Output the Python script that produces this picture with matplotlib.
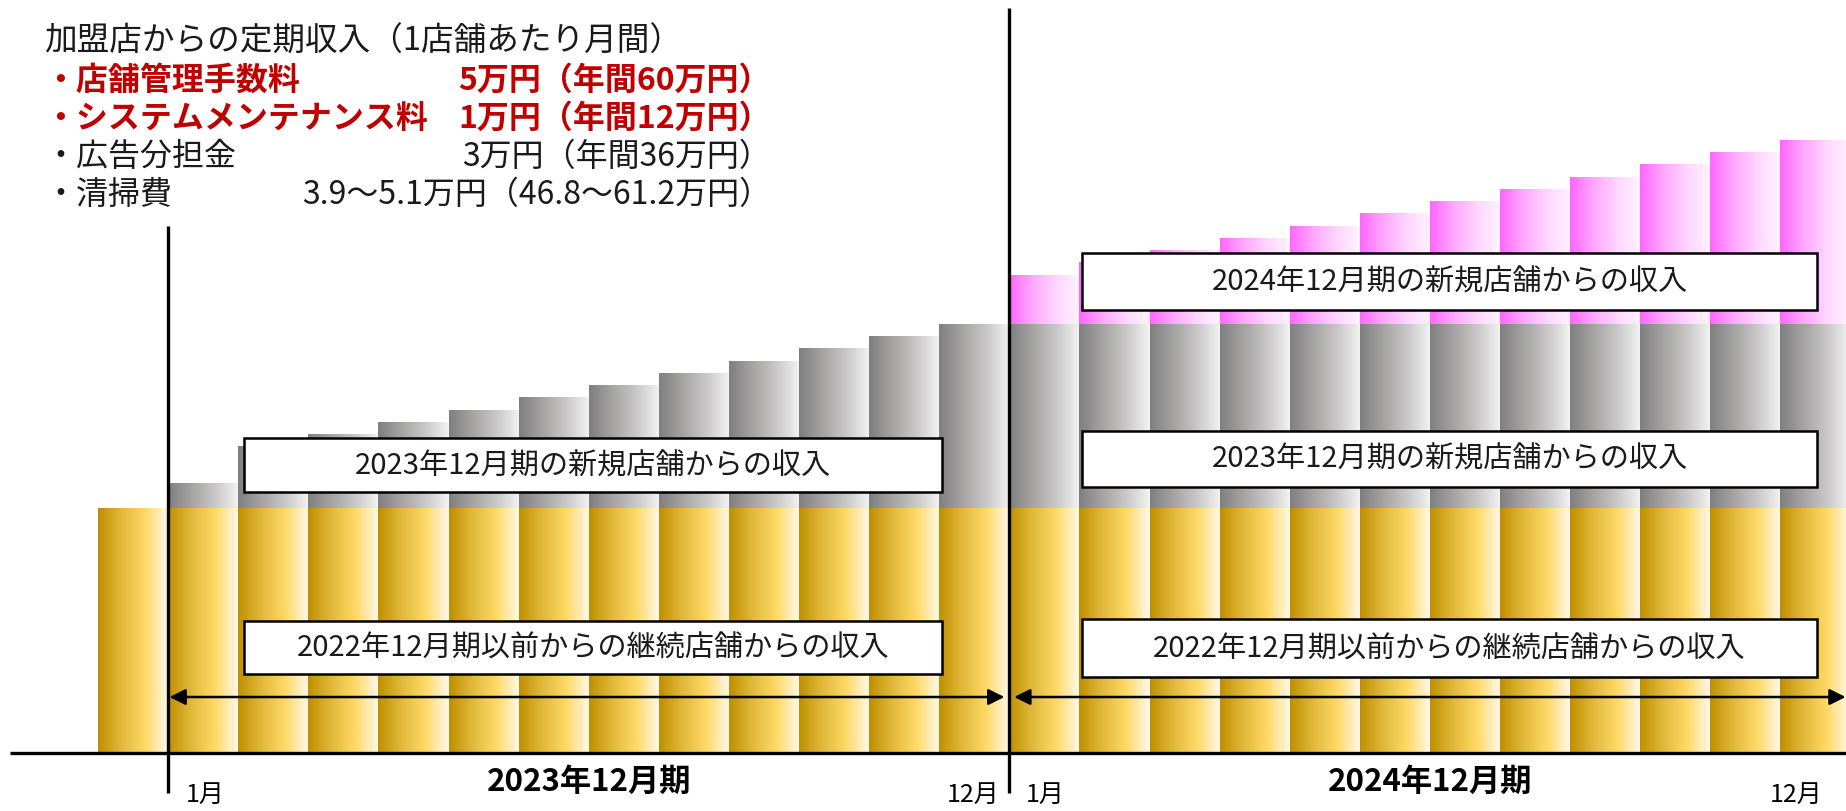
import numpy as np
import matplotlib.pyplot as plt
from matplotlib.colors import LinearSegmentedColormap
from matplotlib.patches import Rectangle

plt.rcParams['font.family'] = ['Noto Sans CJK JP', 'DejaVu Sans']

W, H = 1846, 812

# 25 monthly bars: one before the period, 12 for FY2023, 12 for FY2024
continuing = [20, 20, 20, 20, 20, 20, 20, 20, 20, 20, 20, 20, 20,
              20, 20, 20, 20, 20, 20, 20, 20, 20, 20, 20, 20]
new_2023 = [0, 2, 5, 6, 7, 8, 9, 10, 11, 12, 13, 14, 15,
            15, 15, 15, 15, 15, 15, 15, 15, 15, 15, 15, 15]
new_2024 = [0, 0, 0, 0, 0, 0, 0, 0, 0, 0, 0, 0, 0,
            4, 5, 6, 7, 8, 9, 10, 11, 12, 13, 14, 15]

period_labels = ["2023年12月期", "2024年12月期"]
box_labels = ["2022年12月期以前からの継続店舗からの収入",
              "2023年12月期の新規店舗からの収入",
              "2024年12月期の新規店舗からの収入"]

header = "加盟店からの定期収入（1店舗あたり月間）"
fee_items = ["・店舗管理手数料", "・システムメンテナンス料", "・広告分担金", "・清掃費"]
fee_values = ["5万円（年間60万円）", "1万円（年間12万円）",
              "3万円（年間36万円）", "3.9～5.1万円（46.8～61.2万円）"]
fee_highlight = [True, True, False, False]

gold = LinearSegmentedColormap.from_list("gold", ["#BF8F00", "#E2B93B", "#FFD966", "#FFFAEE"])
gray = LinearSegmentedColormap.from_list("gray", ["#7F7F7F", "#A6A3A3", "#C9C7C7", "#F4F4F4"])
pink = LinearSegmentedColormap.from_list("pink", ["#FF66FF", "#FFA8FF", "#FFD6FF", "#FFF4FF"])
grad = np.linspace(0, 1, 256).reshape(1, -1)

fig = plt.figure(figsize=(W / 100, H / 100), dpi=100)
ax = fig.add_axes([0, 0, 1, 1])
ax.axis('off')

x = np.arange(len(continuing))


def gradient_bars(heights, bottoms, cmap):
    bars = ax.bar(x, heights, width=1.0, bottom=bottoms, align='edge',
                  color='none', linewidth=0)
    for b in bars:
        if b.get_height() <= 0:
            continue
        x0, y0 = b.get_x(), b.get_y()
        ax.imshow(grad, cmap=cmap, aspect='auto', interpolation='bicubic',
                  extent=(x0, x0 + b.get_width(), y0, y0 + b.get_height()), zorder=1)


cont = np.array(continuing)
n23 = np.array(new_2023)
n24 = np.array(new_2024)
gradient_bars(cont, 0, gold)
gradient_bars(n23, cont, gray)
gradient_bars(n24, cont + n23, pink)

# axis lines
ax.plot([-1.255, 25], [0, 0], color='black', lw=2.4, zorder=6, solid_capstyle='butt')
ax.plot([1, 1], [-3.27, 43.0], color='black', lw=2.4, zorder=6, solid_capstyle='butt')
ax.plot([13, 13], [-3.27, 60.8], color='black', lw=2.4, zorder=6, solid_capstyle='butt')

# period arrows
arrow = dict(arrowstyle='<|-|>', color='black', lw=1.8, mutation_scale=24,
             shrinkA=0, shrinkB=0)
ax.annotate("", xy=(12.93, 4.57), xytext=(1.02, 4.57), arrowprops=arrow, zorder=7)
ax.annotate("", xy=(24.93, 4.57), xytext=(13.07, 4.57), arrowprops=arrow, zorder=7)

# month labels
ax.text(1.25, -3.3, "1月", ha='left', va='center', fontsize=18)
ax.text(12.86, -3.3, "12月", ha='right', va='center', fontsize=18)
ax.text(13.23, -3.3, "1月", ha='left', va='center', fontsize=18)
ax.text(24.6, -3.3, "12月", ha='right', va='center', fontsize=18)
ax.text(7.0, -2.3, period_labels[0], ha='center', va='center', fontsize=22.5, fontweight='bold')
ax.text(19.0, -2.3, period_labels[1], ha='center', va='center', fontsize=22.5, fontweight='bold')

# label boxes (x0, x1, y0, y1, text)
boxes = [(2.08, 12.04, 6.45, 10.78, box_labels[0]),
         (2.08, 12.04, 21.3, 25.7, box_labels[1]),
         (14.04, 24.52, 6.2, 10.9, box_labels[0]),
         (14.04, 24.52, 21.7, 26.3, box_labels[1]),
         (14.04, 24.52, 36.2, 40.8, box_labels[2])]
for x0, x1, y0, y1, txt in boxes:
    ax.add_patch(Rectangle((x0, y0), x1 - x0, y1 - y0, facecolor='white',
                           edgecolor='black', lw=1.8, zorder=8))
    ax.text((x0 + x1) / 2, (y0 + y1) / 2, txt, ha='center', va='center',
            fontsize=21, zorder=9, color='#1a1a1a')

ax.set_xlim(-98 / 70.1, (W - 98) / 70.1)
ax.set_ylim(-(H - 754) / 12.25, 754 / 12.25)

# fee text block (pixel positions)
fig.text(44 / W, 1 - 42 / H, header, ha='left', va='center', fontsize=23.5, color='#1a1a1a')
line_y = [81, 119, 157, 195]
for name, val, hl, y in zip(fee_items, fee_values, fee_highlight, line_y):
    col = '#C00000' if hl else '#1a1a1a'
    fw = 'bold' if hl else 'normal'
    fig.text(44 / W, 1 - y / H, name, ha='left', va='center', fontsize=23,
             color=col, fontweight=fw)
    fig.text(771 / W, 1 - y / H, val, ha='right', va='center', fontsize=23,
             color=col, fontweight=fw)

fig.savefig("out.png", dpi=100)
